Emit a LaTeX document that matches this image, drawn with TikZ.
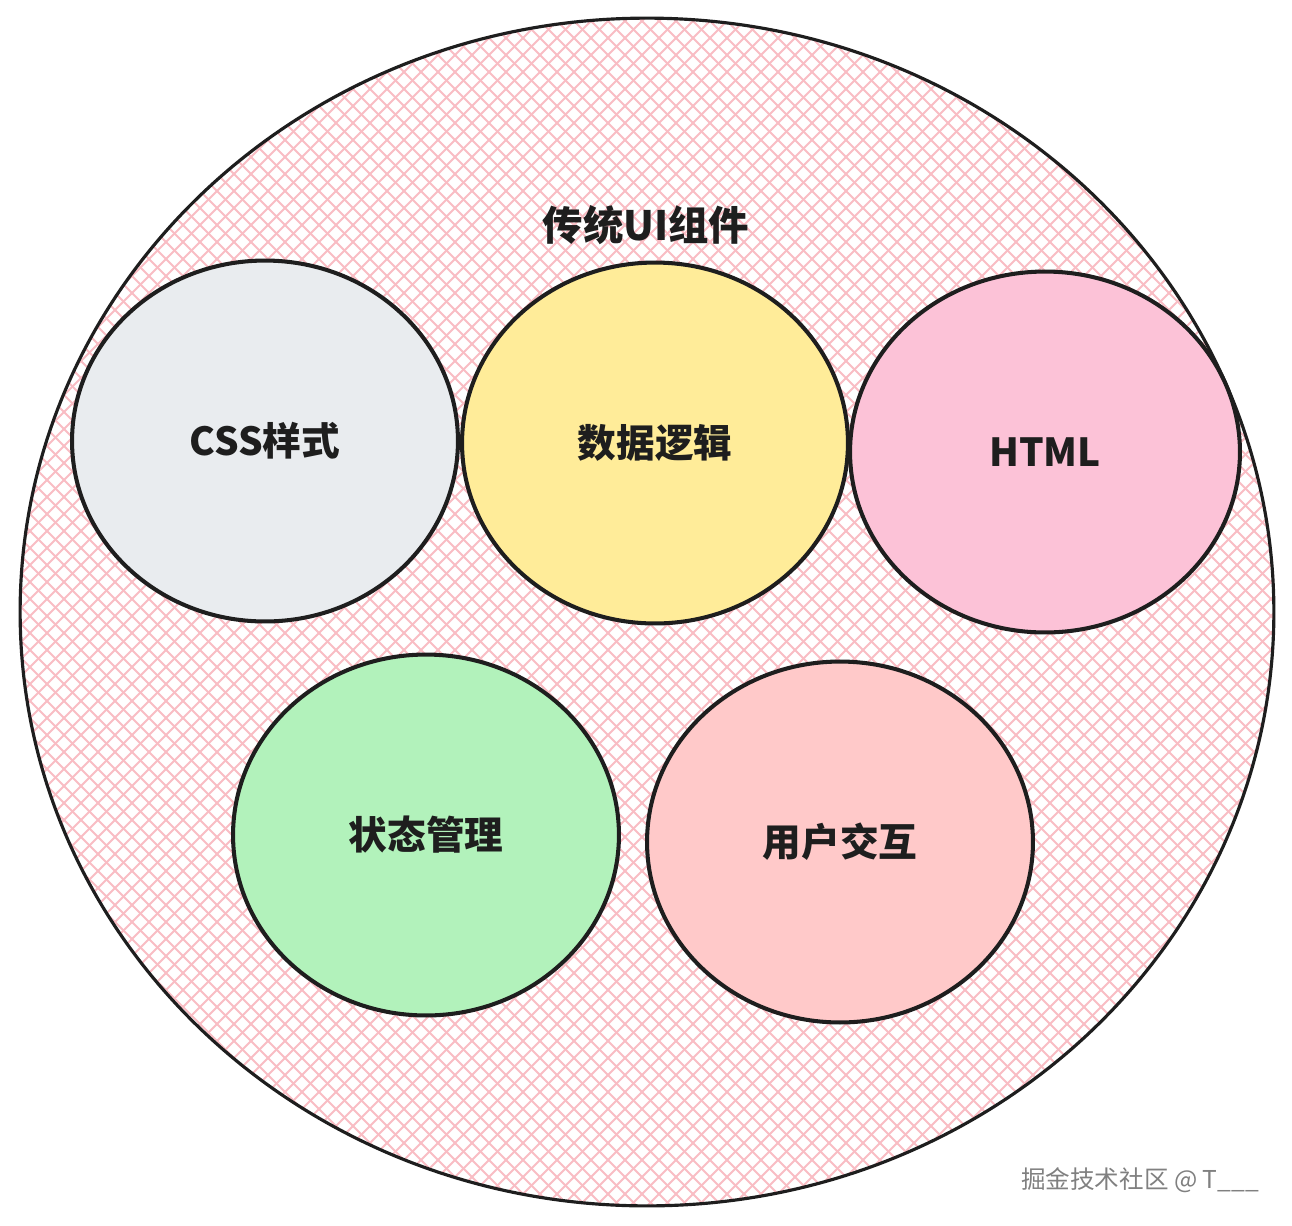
\documentclass[tikz,border=0pt]{standalone}
\usepackage{fontspec}
\usepackage{tikz}
\usetikzlibrary{shapes.geometric}
\newfontfamily\cjk{Noto Sans CJK SC}
\definecolor{hatchpink}{HTML}{F9BDC4}
\definecolor{cssgray}{HTML}{E9ECEF}
\definecolor{logicyellow}{HTML}{FFEC99}
\definecolor{htmlpink}{HTML}{FCC2D7}
\definecolor{stategreen}{HTML}{B2F2BB}
\definecolor{userred}{HTML}{FFC9C9}
\definecolor{inkblack}{HTML}{1E1E1E}

\begin{document}
\begin{tikzpicture}[
    x=0.02cm, y=-0.02cm,
    part/.style={ellipse, draw=inkblack, line width=2.3pt, minimum width=7.72cm, minimum height=7.22cm, font=\cjk\bfseries\fontsize{22}{26}\selectfont, text=inkblack},
    title/.style={font=\cjk\bfseries\fontsize{23}{27}\selectfont, text=inkblack},
]
\useasboundingbox (0,0) rectangle (1292,1225);

% outer circle with cross hatching
\fill[white] (647,612) ellipse [x radius=12.54cm, y radius=11.88cm];
\begin{scope}
  \clip (647,612) ellipse [x radius=12.54cm, y radius=11.88cm];
  \foreach \i in {-1300,-1283,...,1300}
    \draw[hatchpink, line width=1.1pt] (\i,0) -- ++(1225,1225);
  \foreach \i in {0,17,...,2600}
    \draw[hatchpink, line width=1.1pt] (\i,0) -- ++(-1225,1225);
\end{scope}
\draw[inkblack, line width=1.8pt] (647,612) ellipse [x radius=12.54cm, y radius=11.88cm];

\node[title] (outer) at (646,225) {传统UI组件};

% parts
\node[part, fill=cssgray] (css) at (265,441) {CSS样式};
\node[part, fill=logicyellow] (logic) at (655,443) {数据逻辑};
\node[part, fill=htmlpink, minimum width=7.8cm] (html) at (1045,452) {HTML};
\node[part, fill=stategreen] (state) at (426,835) {状态管理};
\node[part, fill=userred] (user) at (840,842) {用户交互};

\node[font=\cjk\fontsize{14}{16}\selectfont, text=gray] (mark) at (1140,1180) {掘金技术社区 @ T\_\_\_};

\end{tikzpicture}
\end{document}
